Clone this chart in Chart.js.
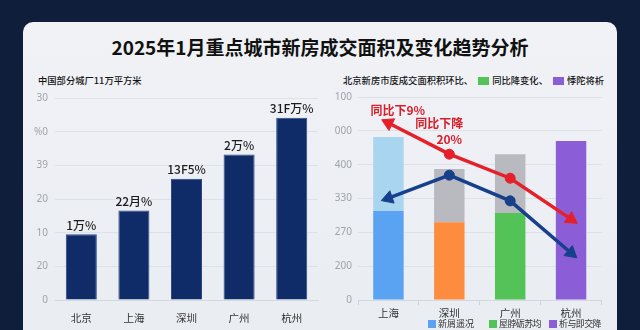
<!DOCTYPE html>
<html lang="zh-CN">
<head>
<meta charset="utf-8">
<title>2025年1月重点城市新房成交面积及变化趋势分析</title>
<script src="https://cdn.jsdelivr.net/npm/chart.js@4.4.1/dist/chart.umd.min.js"></script>
<style>
html, body { margin: 0; padding: 0; }
body {
    width: 640px; height: 330px; overflow: hidden; position: relative;
    background: #0f1e3a;
    font-family: "Noto Sans CJK SC", "Noto Sans", sans-serif;
}
.card {
    position: absolute; left: 23px; top: 22px; width: 594px; height: 340px;
    background: linear-gradient(#f0f2f6, #e9ecf1);
    border-radius: 10px;
}
h1 {
    position: absolute; left: 0; top: 34px; width: 640px; margin: 0;
    text-align: center; font-size: 19px; line-height: 26px; font-weight: 700; color: #111;
}
.sub {
    position: absolute; top: 73px; font-size: 9.3px; line-height: 14px; font-weight: 500;
    color: #151515; white-space: nowrap;
}
.sq { display: inline-block; width: 11px; height: 8px; margin: 0 3px 0 5px; vertical-align: -0.5px; }
.legend {
    position: absolute; top: 318px; font-size: 9px; line-height: 12px; color: #333; white-space: nowrap;
}
.legend span.sq { width: 8px; height: 8px; margin: 0 2px 0 0; }
canvas { position: absolute; }
</style>
</head>
<body>
<div class="card"></div>
<h1>2025年1月重点城市新房成交面积及变化趋势分析</h1>
<div class="sub" style="left:38px">中国部分城厂11万平方米</div>
<div class="sub" style="left:343px">北京新房市庋成交面积积环比、<span class="sq" style="background:#53c257"></span>同比降变化、<span class="sq" style="background:#8b5ed8"></span>悸陀将析</div>

<div style="position:absolute;left:30px;top:85px;width:290px;height:245px"><canvas id="leftChart"></canvas></div>
<div style="position:absolute;left:330px;top:85px;width:280px;height:245px"><canvas id="rightChart"></canvas></div>

<div class="legend" style="left:428px"><span class="sq" style="background:#5aa2f2"></span>新屑遥况</div>
<div class="legend" style="left:489px;letter-spacing:-0.6px"><span class="sq" style="background:#53c257"></span>屋脖砺苏均</div>
<div class="legend" style="left:549px;letter-spacing:-0.6px"><span class="sq" style="background:#8b5ed8"></span>析与即交降</div>

<script>
// 左图：城市成交面积
const leftCities = ['北京', '上海', '深圳', '广州', '杭州'];
const leftValues = [19.5, 26.6, 36, 43.2, 54.1];
const leftBarLabels = ['1万%', '22月%', '13F5%', '2万%', '31F万%'];
const leftTickLabels = ['0', '20', '10', '20', '39', '%0', '30'];

// 右图：堆叠柱 + 两条趋势线
const rightCities = ['上海', '深圳', '广州', '杭州'];
const baseValues = [263, 230, 257, 470];
const upperValues = [219, 157, 174, 0];
const redLine = [523, 431, 360, 239];
const blueLine = [301, 369, 293, 139];
const rightTickLabels = ['0', '200', '270', '330', '400', '000', '100'];

const baseColors = ['#5aa2f2', '#fd8c3f', '#53c257', '#8b5ed8'];
const upperColors = ['#a9d5f1', '#b9babf', '#b9babf', '#b9babf'];

const tickFont = { family: 'Noto Sans', size: 10 };
const catFont = { family: 'Noto Sans CJK SC', size: 10.5 };

// 柱顶标签
const barLabelPlugin = {
    id: 'barLabels',
    afterDatasetsDraw(chart) {
        const ctx = chart.ctx;
        const meta = chart.getDatasetMeta(0);
        ctx.save();
        ctx.font = '500 12px "Noto Sans CJK SC", "Noto Sans", sans-serif';
        ctx.fillStyle = '#1c1c1c';
        ctx.textAlign = 'center';
        ctx.textBaseline = 'bottom';
        meta.data.forEach(function(bar, i) {
            ctx.fillText(leftBarLabels[i], bar.x, bar.y - 3);
        });
        ctx.restore();
    }
};

// 红色同比标注
const notePlugin = {
    id: 'notes',
    afterDatasetsDraw(chart) {
        const ctx = chart.ctx;
        const x = chart.scales.x;
        const y = chart.scales.y;
        ctx.save();
        ctx.font = 'bold 12px "Noto Sans CJK SC", sans-serif';
        ctx.fillStyle = '#d81e2a';
        ctx.textBaseline = 'middle';
        ctx.textAlign = 'left';
        ctx.fillText('同比下9%', x.getPixelForValue(0) - 18, y.getPixelForValue(560));
        ctx.textAlign = 'center';
        ctx.fillText('同比下降', x.getPixelForValue(1) - 10, y.getPixelForValue(522));
        ctx.fillText('20%', x.getPixelForValue(1), y.getPixelForValue(476));
        ctx.restore();
    }
};

new Chart(document.getElementById('leftChart'), {
    type: 'bar',
    data: {
        labels: leftCities,
        datasets: [{
            data: leftValues,
            backgroundColor: '#0f2c68',
            borderColor: '#2b4a86',
            borderWidth: 1,
            categoryPercentage: 1,
            barPercentage: 0.59
        }]
    },
    options: {
        responsive: true,
        maintainAspectRatio: false,
        animation: false,
        layout: { padding: { top: 0, right: 2 } },
        plugins: { legend: { display: false }, tooltip: { enabled: false } },
        scales: {
            x: {
                grid: { display: false },
                border: { color: '#d3d7de' },
                ticks: { color: '#333', font: catFont, padding: 4 },
                afterFit(scale) { scale.height = 30; }
            },
            y: {
                min: 0, max: 60,
                ticks: {
                    stepSize: 10, color: '#a0a4ab', font: tickFont, padding: 7,
                    callback: function(v, i) { return leftTickLabels[i]; }
                },
                grid: { color: '#dde1e8', drawTicks: false },
                border: { display: false },
                afterFit(scale) { scale.width = 25; }
            }
        }
    },
    plugins: [barLabelPlugin]
});

function lineSet(values, color, rotations) {
    return {
        type: 'line',
        data: values,
        yAxisID: 'yLine',
        borderColor: color,
        backgroundColor: color,
        borderWidth: 3.5,
        pointStyle: ['triangle', 'circle', 'circle', 'triangle'],
        pointRadius: [7.5, 5, 5, 7.5],
        pointRotation: rotations,
        pointBorderWidth: 1,
        order: 0
    };
}

new Chart(document.getElementById('rightChart'), {
    type: 'bar',
    data: {
        labels: rightCities,
        datasets: [
            {
                data: baseValues,
                backgroundColor: baseColors,
                categoryPercentage: 1,
                barPercentage: 0.5,
                order: 1
            },
            {
                data: upperValues,
                backgroundColor: upperColors,
                categoryPercentage: 1,
                barPercentage: 0.5,
                order: 1
            },
            lineSet(redLine, '#e5202b', [-64, 0, 0, 124]),
            lineSet(blueLine, '#17408c', [-109, 0, 0, 130])
        ]
    },
    options: {
        responsive: true,
        maintainAspectRatio: false,
        animation: false,
        layout: { padding: { top: 0, right: 8 } },
        plugins: { legend: { display: false }, tooltip: { enabled: false } },
        scales: {
            x: {
                stacked: true,
                grid: { display: true, drawOnChartArea: false, tickLength: 5, color: '#cfd4dc' },
                border: { color: '#d3d7de' },
                ticks: { color: '#333', font: catFont, padding: 2 },
                afterFit(scale) { scale.height = 30; }
            },
            y: {
                stacked: true,
                min: 0, max: 600,
                ticks: {
                    stepSize: 100, color: '#a0a4ab', font: tickFont, padding: 6,
                    callback: function(v, i) { return rightTickLabels[i]; }
                },
                grid: { color: '#dde1e8', drawTicks: false },
                border: { display: false },
                afterFit(scale) { scale.width = 28; }
            },
            yLine: { display: false, min: 0, max: 600 }
        }
    },
    plugins: [notePlugin]
});
</script>
</body>
</html>
